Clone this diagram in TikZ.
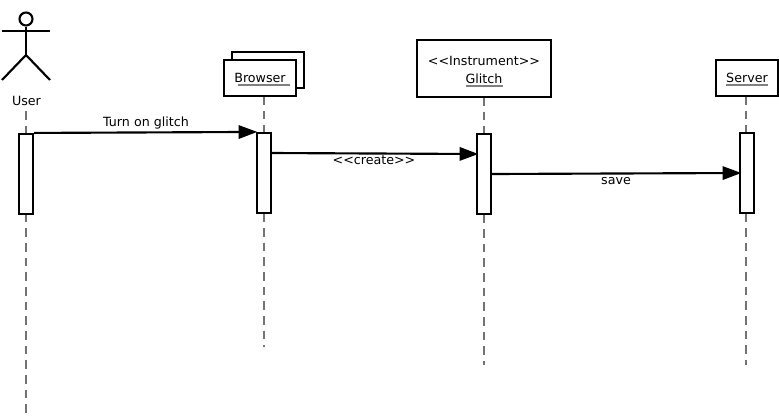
\documentclass[tikz,border=0pt]{standalone}
\usepackage{fontspec}
\setmainfont{DejaVu Sans}
\usetikzlibrary{arrows.meta}
\definecolor{lifegrey}{gray}{0.45}
\definecolor{ulgrey}{gray}{0.5}
\tikzset{
  boxnode/.style={draw=black,fill=white,line width=1.6pt,inner sep=0pt,align=center,font=\fontsize{9.5}{13.5}\selectfont},
  activation/.style={draw=black,fill=white,line width=1.6pt,inner sep=0pt,minimum width=10.5pt,minimum height=60pt},
  lifeline/.style={draw=lifegrey,line width=1pt,dash pattern=on 6.5pt off 4.5pt},
  message/.style={draw=black,line width=1.6pt,-{Triangle[length=14pt,width=10pt]},shorten >=-1pt},
  msglabel/.style={inner sep=0pt,font=\fontsize{9.5}{11}\selectfont},
  ulline/.style={draw=ulgrey,line width=0.9pt},
  actorline/.style={draw=black,line width=1.6pt}
}
\begin{document}
\begin{tikzpicture}[x=0.75pt,y=-0.75pt]
\useasboundingbox (0,0) rectangle (779,419);
% end points of the lifelines
\coordinate (uend) at (26,415);
\coordinate (bend) at (264,347);
\coordinate (gend) at (484,365);
\coordinate (send) at (746,365);
% lifelines
\coordinate (ustart) at (26,111);
\coordinate (bstart) at (264,96);
\coordinate (gstart) at (484,97);
\coordinate (sstart) at (746,96);
\draw[lifeline] (ustart) -- (uend);
\draw[lifeline] (bstart) -- (bend);
\draw[lifeline] (gstart) -- (gend);
\draw[lifeline] (sstart) -- (send);
% actor
\node[draw=black,line width=1.6pt,circle,minimum size=9.75pt,inner sep=0pt] (head) at (26,19) {};
\coordinate (hip) at (26,55);
\coordinate (larm) at (2,31);
\coordinate (rarm) at (50,31);
\coordinate (lfoot) at (2,80);
\coordinate (rfoot) at (50,80);
\draw[actorline] (head.south) -- (hip);
\draw[actorline] (larm) -- (rarm);
\draw[actorline,line join=miter] (lfoot) -- (hip) -- (rfoot);
\node[msglabel] (user) at (26.5,101) {User};
% object boxes
\node[boxnode,minimum width=54pt,minimum height=27pt] (bback) at (268,70) {};
\node[boxnode,minimum width=54pt,minimum height=27pt] (browser) at (260,78) {Browser};
\node[boxnode,minimum width=100.5pt,minimum height=42.75pt] (glitch) at (484,68.5) {\rule{0pt}{9.5pt}<{}<Instrument>{}>\\Glitch};
\node[boxnode,minimum width=46.5pt,minimum height=27pt] (server) at (747,78) {Server};
% underlines
\coordinate (bu1) at (238,85);
\coordinate (bu2) at (290,85);
\coordinate (gu1) at (466,86);
\coordinate (gu2) at (503,86);
\coordinate (su1) at (726,85);
\coordinate (su2) at (768,85);
\draw[ulline] (bu1) -- (bu2);
\draw[ulline] (gu1) -- (gu2);
\draw[ulline] (su1) -- (su2);
% activations
\node[activation] (ua) at (26,174) {};
\node[activation] (ba) at (264,173) {};
\node[activation] (ga) at (484,174) {};
\node[activation] (sa) at (747,173) {};
% messages
\coordinate (m2s) at (271,153);
\coordinate (m2e) at (477,154);
\coordinate (m3s) at (491,174);
\coordinate (m3e) at (740,173);
\draw[message] (ua.north east) -- (ba.north west);
\draw[message] (m2s) -- (m2e);
\draw[message] (m3s) -- (m3e);
\node[msglabel] (l1) at (146,123) {Turn on glitch};
\node[msglabel] (l2) at (374,160) {<{}<create>{}>};
\node[msglabel] (l3) at (616,181.5) {save};
\end{tikzpicture}
\end{document}
